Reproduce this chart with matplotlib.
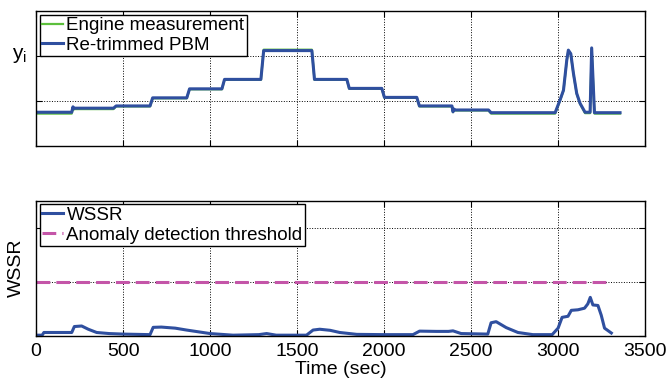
import matplotlib
matplotlib.use("Agg")
import matplotlib.pyplot as plt

plt.rcParams["font.family"] = ["Liberation Sans", "DejaVu Sans"]

# top panel: output y_i vs time
t_top = [0, 205, 212, 216, 222, 232, 445, 460, 655, 670, 866, 882, 1068, 1083,
         1292, 1308, 1585, 1600, 1786, 1800, 1987, 2002, 2188, 2203, 2390, 2396,
         2402, 2410, 2600, 2615, 2983, 3011, 3031, 3050, 3059, 3073, 3088, 3107,
         3126, 3155, 3184, 3193, 3209, 3356]
y_pbm = [0.75, 0.75, 0.87, 0.83, 0.84, 0.84, 0.84, 0.89, 0.89, 1.07, 1.07, 1.27,
         1.27, 1.48, 1.48, 2.12, 2.12, 1.48, 1.48, 1.28, 1.28, 1.08, 1.08, 0.89,
         0.89, 0.76, 0.82, 0.80, 0.80, 0.74, 0.74, 1.02, 1.24, 1.91, 2.13, 2.05,
         1.62, 1.17, 0.95, 0.75, 0.75, 2.18, 0.74, 0.74]
y_eng = [0.72, 0.72, 0.85, 0.81, 0.82, 0.82, 0.82, 0.88, 0.88, 1.06, 1.06, 1.26,
         1.26, 1.47, 1.47, 2.14, 2.14, 1.47, 1.47, 1.27, 1.27, 1.07, 1.07, 0.88,
         0.88, 0.75, 0.81, 0.79, 0.79, 0.72, 0.72, 1.01, 1.23, 1.90, 2.12, 2.04,
         1.61, 1.16, 0.94, 0.73, 0.73, 2.16, 0.72, 0.72]

# bottom panel: WSSR vs time
t_wssr = [0, 35, 45, 205, 220, 262, 300, 348, 420, 501, 655, 673, 720, 800, 865,
          1000, 1132, 1280, 1325, 1380, 1554, 1592, 1630, 1690, 1745, 1843, 2000,
          2166, 2204, 2300, 2370, 2396, 2443, 2596, 2615, 2644, 2702, 2769, 2855,
          2966, 3000, 3023, 3057, 3076, 3114, 3152, 3171, 3185, 3200, 3229, 3248,
          3267, 3306]
wssr = [0.01, 0.01, 0.06, 0.06, 0.17, 0.18, 0.12, 0.06, 0.04, 0.03, 0.02, 0.155,
        0.16, 0.14, 0.105, 0.04, 0.01, 0.02, 0.04, 0.01, 0.01, 0.105, 0.12, 0.10,
        0.06, 0.025, 0.02, 0.02, 0.085, 0.08, 0.08, 0.09, 0.04, 0.03, 0.24, 0.26,
        0.15, 0.06, 0.02, 0.02, 0.14, 0.34, 0.36, 0.47, 0.48, 0.51, 0.59, 0.71,
        0.57, 0.56, 0.38, 0.14, 0.05]
t_thr = [0, 3280]
thr = [1.0, 1.0]

blue = "#2f4f9f"
green = "#5cbf3c"
magenta = "#c455a8"
fs = 14

fig = plt.figure(figsize=(6.68, 3.79), dpi=100)
ax1 = fig.add_axes([0.054, 0.6148, 0.9117, 0.3562])
ax2 = fig.add_axes([0.054, 0.1142, 0.9117, 0.3562])

ax1.plot(t_top, y_eng, color=green, lw=1.6, label="Engine measurement")
ax1.plot(t_top, y_pbm, color=blue, lw=2.2, label="Re-trimmed PBM")
ax1.set_ylim(0, 3)
ax1.set_yticks([1, 2])
ax1.set_yticklabels([])
ax1.set_ylabel("y$_\\mathregular{i}$", fontsize=fs + 1, rotation=0)
ax1.yaxis.set_label_coords(-0.028, 0.6)

ax2.plot(t_wssr, wssr, color=blue, lw=2.2, label="WSSR")
ax2.plot(t_thr, thr, color=magenta, lw=2.2, ls=(0, (4.5, 2)), label="Anomaly detection threshold")
ax2.set_ylim(0, 2.5)
ax2.set_yticks([0, 1, 2])
ax2.set_yticklabels([])
ax2.set_ylabel("WSSR", fontsize=fs, labelpad=3)
ax2.set_xlabel("Time (sec)", fontsize=fs, labelpad=1)

for ax in (ax1, ax2):
    ax.set_xlim(0, 3500)
    ax.set_xticks(range(0, 3501, 500))
    ax.grid(True, color="black", ls=":", lw=0.7)
    ax.tick_params(direction="in", top=True, right=True, labelsize=fs, length=4, pad=5)
    for s in ax.spines.values():
        s.set_linewidth(1.0)
    leg = ax.legend(loc="upper left", fontsize=13.5, fancybox=False, framealpha=1,
                    edgecolor="black", handlelength=1.1, handletextpad=0.2,
                    borderpad=0.12, labelspacing=0.15, borderaxespad=0.2)
    leg.get_frame().set_linewidth(1.0)
ax1.set_xticklabels([])

fig.savefig("out.png", dpi=100)
